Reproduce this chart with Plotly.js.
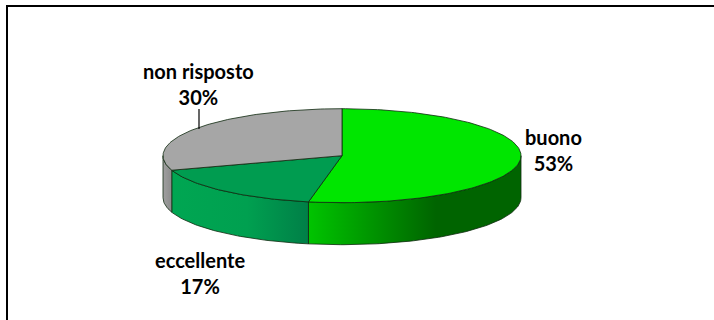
<!DOCTYPE html>
<html>
<head>
<meta charset="utf-8">
<script src="https://cdn.plot.ly/plotly-3.0.1.min.js"></script>
<style>html,body{margin:0;padding:0;background:#fff}#chart{width:714px;height:320px}</style>
</head>
<body>
<div id="chart"></div>
<script>
const categories = ['buono', 'eccellente', 'non risposto'];
const shares = [53, 17, 30];
const topColors = ['#00e600', '#009c50', '#a6a6a6'];
const wallStops = [
  [[0, '#00c400'], [0.6, '#006400'], [1, '#006400']],
  [[0, '#00a652'], [0.55, '#00a050'], [1, '#007f47']],
  [[0, '#a0a0a0'], [1, '#8c8c8c']]
];
const labelSpots = [[553, 149.5], [200, 272.5], [198, 83.5]];

// Tilted disc projected on a pixel-sized plotting area.
const cx = 342, cy = 155.7, rx = 179, ry = 47, depth = 42;
const total = shares.reduce((a, b) => a + b, 0);
const px = a => cx + rx * Math.sin(a);
const py = a => cy - ry * Math.cos(a);
const edge = '#0f2a0f';

function arcAngles(a0, a1) {
  const out = [], n = Math.max(2, Math.ceil(Math.abs(a1 - a0) / 0.02));
  for (let i = 0; i <= n; i++) out.push(a0 + (a1 - a0) * i / n);
  return out;
}

const traces = [];
let acc = 0;
const slices = shares.map(v => {
  const s = { a0: acc / total * 2 * Math.PI, a1: (acc + v) / total * 2 * Math.PI };
  acc += v;
  return s;
});

// Outer wall: only the part of each slice on the near half of the rim is visible.
slices.forEach((s, i) => {
  const a0 = Math.max(s.a0, Math.PI / 2), a1 = Math.min(s.a1, 3 * Math.PI / 2);
  if (a1 <= a0) return;
  const as = arcAngles(a0, a1);
  const x = as.map(px).concat(as.slice().reverse().map(px));
  const y = as.map(py).concat(as.slice().reverse().map(a => py(a) + depth));
  x.push(x[0]); y.push(y[0]);
  traces.push({
    type: 'scatter', mode: 'lines', x, y, fill: 'toself', hoverinfo: 'skip',
    line: { color: edge, width: 0.8 },
    fillgradient: { type: 'horizontal', colorscale: wallStops[i] }
  });
});

// Top face of every slice.
slices.forEach((s, i) => {
  const as = arcAngles(s.a0, s.a1);
  const x = [cx].concat(as.map(px), [cx]);
  const y = [cy].concat(as.map(py), [cy]);
  traces.push({
    type: 'scatter', mode: 'lines', x, y, fill: 'toself', fillcolor: topColors[i],
    line: { color: edge, width: 0.8 }, name: categories[i], hoverinfo: 'name'
  });
});

const annotations = categories.map((c, i) => ({
  x: labelSpots[i][0], y: labelSpots[i][1], xref: 'x', yref: 'y', showarrow: false,
  text: '<b>' + c + '<br>' + shares[i] + '%</b>',
  font: { family: 'Lato, sans-serif', size: 20, color: '#000' }, align: 'center'
}));

const layout = {
  width: 714, height: 320, margin: { l: 0, r: 0, t: 0, b: 0 },
  paper_bgcolor: '#fff', plot_bgcolor: '#fff', showlegend: false,
  xaxis: { range: [0, 714], visible: false, fixedrange: true },
  yaxis: { range: [320, 0], visible: false, fixedrange: true },
  annotations,
  shapes: [
    // frame
    { type: 'line', xref: 'x', yref: 'y', x0: 6, x1: 714, y0: 6, y1: 6, line: { color: '#000', width: 2 } },
    { type: 'line', xref: 'x', yref: 'y', x0: 7, x1: 7, y0: 5, y1: 320, line: { color: '#000', width: 2 } },
    // leader for the upper label
    { type: 'line', xref: 'x', yref: 'y', x0: 199, x1: 199, y0: 109, y1: 129, line: { color: '#000', width: 1.2 } }
  ]
};

Plotly.newPlot('chart', traces, layout, { displayModeBar: false, staticPlot: true });
</script>
</body>
</html>
